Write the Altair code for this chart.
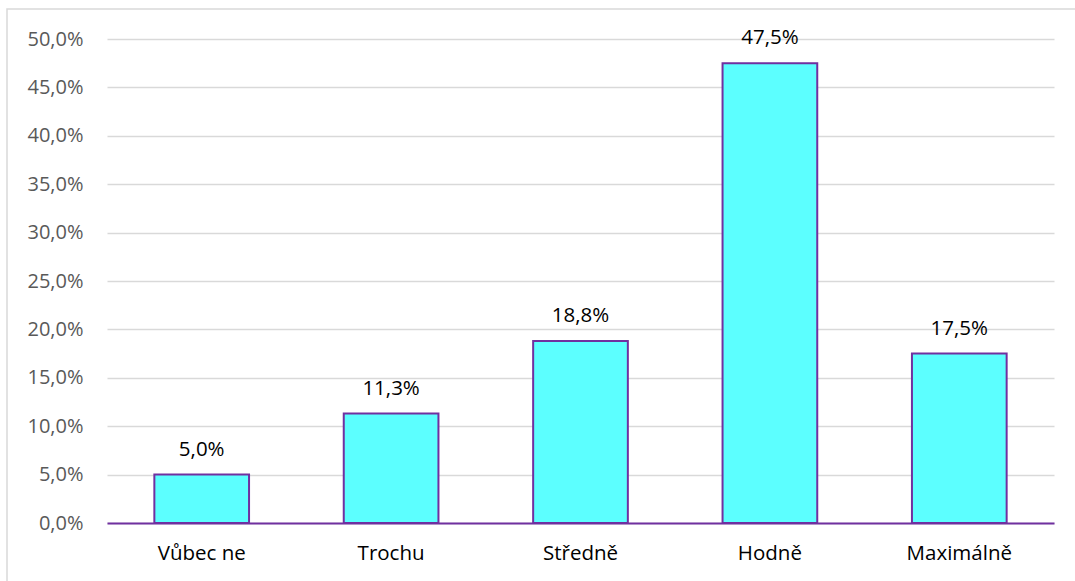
import altair as alt
import pandas as pd

categories = ["Vůbec ne", "Trochu", "Středně", "Hodně", "Maximálně"]
values = [5.0, 11.3, 18.8, 47.5, 17.5]

df = pd.DataFrame({"cat": categories, "val": values})

FONT = "Open Sans"
PURPLE = "#7030A0"

border = alt.Chart(pd.DataFrame({"a": [0]})).mark_rect(
    fill=None, stroke="#d9d9d9", strokeWidth=1.5
).encode(
    x=alt.value(-100), x2=alt.value(1000), y=alt.value(-30), y2=alt.value(600)
)

base = alt.Chart(df).encode(
    x=alt.X("cat:N", sort=categories, title=None,
            scale=alt.Scale(paddingInner=0.5, paddingOuter=0.25),
            axis=alt.Axis(labelAngle=0, labelFont=FONT, labelFontSize=20.5,
                          labelColor="#000000", labelPadding=20, ticks=False,
                          domainColor=PURPLE, domainWidth=2)),
    y=alt.Y("val:Q", title=None,
            scale=alt.Scale(domain=[0, 50]),
            axis=alt.Axis(values=[0, 5, 10, 15, 20, 25, 30, 35, 40, 45, 50],
                          labelExpr="replace(format(datum.value, '.1f'), '.', ',') + '%'",
                          labelFont=FONT, labelFontSize=20, labelColor="#595959",
                          labelPadding=24, ticks=False, domain=False,
                          grid=True, gridColor="#d9d9d9", gridWidth=1.3)),
)

bars = base.mark_bar(fill="#5CFFFF", stroke=PURPLE, strokeWidth=2)

labels = base.mark_text(baseline="alphabetic", dy=-19, font=FONT, fontSize=20.5,
                        color="#000000").encode(
    text=alt.Text("lbl:N")
).transform_calculate(
    lbl="replace(format(datum.val, '.1f'), '.', ',') + '%'"
)

chart = alt.layer(border, bars, labels).properties(
    width=947, height=484,
    autosize=alt.AutoSizeParams(type="none"),
    padding={"left": 107, "top": 39, "right": 21, "bottom": 58},
    background="#ffffff",
).configure_view(stroke=None)

chart.save("out.html", embed_options={"renderer": "svg", "actions": False})
